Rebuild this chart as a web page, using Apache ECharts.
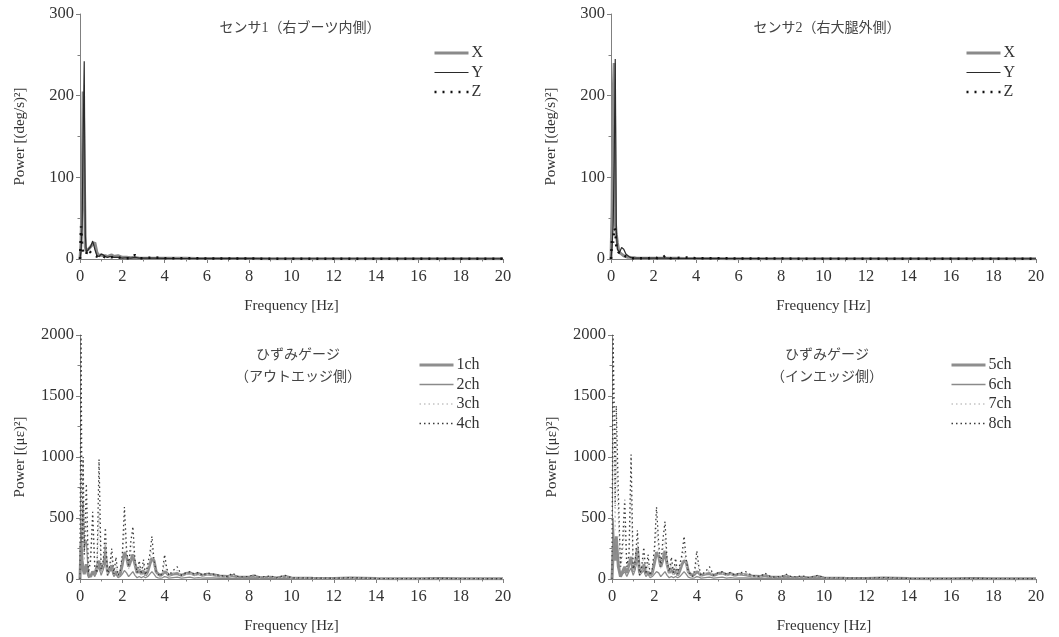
<!DOCTYPE html>
<html><head><meta charset="utf-8">
<script src="https://cdn.jsdelivr.net/npm/echarts@6/dist/echarts.min.js"></script>
<style>html,body{margin:0;padding:0;background:#fff}#c{width:1059px;height:637px}</style>
</head><body><div id="c"></div>
<script>
// ---------- data ----------
const xTicks = [0,2,4,6,8,10,12,14,16,18,20];
const titleTL = 'センサ1（右ブーツ内側）';
const titleTR = 'センサ2（右大腿外側）';
const titleBL = 'ひずみゲージ\n（アウトエッジ側）';
const titleBR = 'ひずみゲージ\n（インエッジ側）';
const namesTop = ['X','Y','Z'];
const namesBL = ['1ch','2ch','3ch','4ch'];
const namesBR = ['5ch','6ch','7ch','8ch'];

const freqTop = [0,0.05,0.1,0.15,0.2,0.25,0.3,0.35,0.4,0.5,0.6,0.7,0.8,0.9,1.0,1.1,1.2,1.3,1.4,1.5,1.6,1.8,2.0,2.2,2.4,2.6,2.8,3.0,3.5,4,4.5,5,5.5,6,7,8,9,10,11,12,13,14,15,16,17,18,19,20];
const s1X = [0,20,80,205,110,15,10,8,12,15,18,20,8,4,5,4,4,3,4,5,3,4,2,2,1.5,2,1,1,1,1,0.8,0.8,0.6,0.6,0.5,0.5,0.4,0.4,0.4,0.3,0.3,0.3,0.3,0.3,0.2,0.2,0.2,0.2];
const s1Y = [0,10,40,150,242,30,8,10,12,15,22,12,4,3,6,5,3,2,3,3,2,2,1,1.5,1,2,1,1,1,0.8,0.6,0.6,0.5,0.5,0.4,0.4,0.3,0.3,0.3,0.3,0.3,0.2,0.2,0.2,0.2,0.2,0.2,0.2];
const s1Z = [0,40,20,8,5,3,6,12,10,8,5,4,3,2,3,3,2,2,3,2,3,2,1,1,1,5,1,1,2,1,0.8,0.8,1,0.6,0.5,0.5,0.4,0.4,0.4,0.3,0.3,0.3,0.3,0.3,0.2,0.2,0.2,0.2];
const s2X = [0,60,200,240,45,30,20,12,8,6,4,3,2,2,1.5,1.5,1,1,1,1,1,1,1,1,1,1,0.8,0.8,0.6,0.6,0.5,0.5,0.4,0.4,0.4,0.3,0.3,0.3,0.3,0.3,0.2,0.2,0.2,0.2,0.2,0.2,0.2,0.2];
const s2Y = [0,15,40,120,245,35,12,10,8,14,12,6,4,2,1.5,1,1,1,1,1,1,1,1,1,1,1,0.8,0.8,0.6,0.6,0.5,0.5,0.4,0.4,0.4,0.3,0.3,0.3,0.3,0.3,0.2,0.2,0.2,0.2,0.2,0.2,0.2,0.2];
const s2Z = [0,25,20,38,35,15,12,8,10,8,5,3,2,1.5,1,1,1,1,1,1,1,1,2,1,1,5,1,1,2,1,1,1,0.8,0.6,0.5,0.5,0.4,0.4,0.4,0.3,0.3,0.3,0.3,0.3,0.2,0.2,0.2,0.2];

const freqBot = [0,0.05,0.1,0.15,0.2,0.3,0.4,0.5,0.6,0.7,0.8,0.9,1.0,1.1,1.2,1.3,1.4,1.5,1.6,1.7,1.8,1.9,2.0,2.1,2.2,2.3,2.4,2.5,2.6,2.7,2.8,2.9,3.0,3.1,3.2,3.3,3.4,3.5,3.6,3.7,3.8,3.9,4.0,4.1,4.2,4.4,4.6,4.8,5.0,5.2,5.4,5.6,5.8,6.0,6.3,6.6,7.0,7.2,7.5,8.0,8.2,8.5,9.0,9.3,9.7,10,11,12,12.8,14,15,16,17,18,19,20];
const ch1 = [0,300,150,80,40,120,30,20,60,40,100,150,60,100,200,60,80,110,40,60,30,40,120,220,180,100,150,200,120,50,80,40,70,30,60,120,170,150,60,40,30,40,60,50,30,40,45,30,45,50,35,45,30,40,35,25,20,30,15,15,25,10,15,8,20,8,6,5,8,4,3,3,4,3,2,2];
const ch2 = [0,200,450,630,250,320,10,30,50,20,60,100,30,80,280,30,60,80,20,40,10,20,40,70,50,20,40,60,30,10,20,10,20,10,20,40,60,40,15,10,8,10,20,15,8,12,15,8,12,15,8,12,8,10,8,6,5,8,4,4,6,3,4,2,5,2,2,1,2,1,1,1,1,1,1,1];
const ch3 = [0,900,400,600,150,500,100,200,420,80,60,550,50,100,300,40,80,180,30,120,20,50,150,420,200,80,220,300,120,40,110,30,120,20,90,150,250,110,40,30,15,40,140,60,20,50,70,20,40,45,30,40,20,35,30,20,15,35,10,15,25,10,18,8,20,8,6,5,8,3,2,2,3,2,2,1];
const ch4 = [0,2000,300,1000,200,780,50,150,550,100,50,980,80,150,420,30,100,250,40,180,30,60,200,590,250,100,300,430,150,50,150,40,160,30,120,200,350,150,60,40,20,60,200,90,30,70,100,30,50,60,40,55,30,50,40,30,20,50,15,20,35,15,25,10,30,10,8,6,12,4,3,3,5,3,2,2];
const ch5 = [0,200,330,150,350,100,20,60,100,50,120,180,60,120,250,50,80,120,40,60,30,50,130,220,190,100,160,230,120,50,90,40,80,30,70,120,150,140,60,40,30,40,60,50,30,40,45,30,45,50,35,45,30,40,35,25,20,30,15,15,25,10,15,8,20,8,6,5,8,4,3,3,4,3,2,2];
const ch6 = [0,500,300,200,280,150,20,40,60,20,60,90,30,80,220,30,50,70,20,40,10,20,40,60,50,20,40,60,30,10,20,10,20,10,20,40,60,40,15,10,8,10,20,15,8,12,15,8,12,15,8,12,8,10,8,6,5,8,4,4,6,3,4,2,5,2,2,1,2,1,1,1,1,1,1,1];
const ch7 = [0,1200,900,400,1000,500,80,200,450,80,150,700,60,100,280,30,80,180,30,140,20,60,180,420,220,80,230,330,110,40,130,40,120,30,90,150,250,120,40,30,15,50,160,70,20,45,70,20,40,45,30,40,20,35,40,20,15,35,10,15,30,10,18,8,20,8,6,5,8,3,2,2,3,2,2,1];
const ch8 = [0,2000,1450,600,1420,700,100,300,650,100,200,1020,80,150,400,30,100,260,40,200,30,80,250,590,300,100,320,470,150,60,180,50,170,40,120,200,350,160,60,40,20,70,230,100,30,60,100,30,50,60,40,55,30,50,60,30,20,50,15,20,40,15,25,10,30,10,8,6,12,4,3,3,5,3,2,2];

// ---------- build ----------
const FONT = '"Liberation Serif", "Noto Sans CJK JP", serif';
const TXT = '#333';
const AX = '#808080';
const pairs = (f, v) => f.map((x, i) => [x, v[i]]);

const grids = [
  {left: 80, top: 14, width: 423, height: 245},
  {left: 611, top: 14, width: 425, height: 245},
  {left: 80, top: 335, width: 423, height: 244},
  {left: 612, top: 335, width: 424, height: 244}
];

function xAx(i){
  return {type:'value', gridIndex:i, min:0, max:20, interval:2,
    name:'Frequency [Hz]', nameLocation:'middle', nameGap:40,
    nameTextStyle:{fontFamily:FONT, fontSize:15, color:TXT},
    axisLine:{show:true, onZero:false, lineStyle:{color:AX, width:1}},
    axisTick:{show:true, inside:false, length:4, lineStyle:{color:AX}},
    minorTick:{show:true, splitNumber:2, length:2.5, lineStyle:{color:AX}},
    axisLabel:{fontFamily:FONT, fontSize:16.5, color:TXT, margin:9,
      formatter: v => xTicks.includes(v) ? String(v) : ''},
    splitLine:{show:false}};
}
function yAx(i, max, interval, name){
  return {type:'value', gridIndex:i, min:0, max:max, interval:interval,
    name:name, nameLocation:'middle', nameGap:52, nameRotate:90,
    nameTextStyle:{fontFamily:FONT, fontSize:15, color:TXT},
    axisLine:{show:true, lineStyle:{color:AX, width:1}},
    axisTick:{show:true, inside:false, length:4, lineStyle:{color:AX}},
    minorTick:{show:true, splitNumber:2, length:2.5, lineStyle:{color:AX}},
    axisLabel:{fontFamily:FONT, fontSize:16.5, color:TXT, margin:6, formatter: v => String(v)},
    splitLine:{show:false}};
}

const stTop = {
  X:{color:'#8a8a8a', width:3, type:'solid'},
  Y:{color:'#2a2a2a', width:1.2, type:'solid'},
  Z:{color:'#111', width:2.5, type:[2,6]}
};
const stBot = [
  {color:'#8e8e8e', width:3, type:'solid'},
  {color:'#8a8a8a', width:1.3, type:'solid'},
  {color:'#c4c4c4', width:1.3, type:[1.5,3]},
  {color:'#3a3a3a', width:1.3, type:[1.5,3]}
];
const stTopArr = [stTop.X, stTop.Y, stTop.Z];

function line(name, gi, data, ls){
  return {type:'line', name:name, xAxisIndex:gi, yAxisIndex:gi, data:data,
    showSymbol:false, symbol:'none', silent:true, animation:false,
    lineStyle:Object.assign({}, ls), itemStyle:{color:ls.color}};
}

const series = [
  line('X',0,pairs(freqTop,s1X),stTop.X),
  line('Y',0,pairs(freqTop,s1Y),stTop.Y),
  line('Z',0,pairs(freqTop,s1Z),stTop.Z),
  line('X',1,pairs(freqTop,s2X),stTop.X),
  line('Y',1,pairs(freqTop,s2Y),stTop.Y),
  line('Z',1,pairs(freqTop,s2Z),stTop.Z),
  line('1ch',2,pairs(freqBot,ch1),stBot[0]),
  line('2ch',2,pairs(freqBot,ch2),stBot[1]),
  line('3ch',2,pairs(freqBot,ch3),stBot[2]),
  line('4ch',2,pairs(freqBot,ch4),stBot[3]),
  line('5ch',3,pairs(freqBot,ch5),stBot[0]),
  line('6ch',3,pairs(freqBot,ch6),stBot[1]),
  line('7ch',3,pairs(freqBot,ch7),stBot[2]),
  line('8ch',3,pairs(freqBot,ch8),stBot[3])
];

function leg(names, styles, left, top, gap){
  return {orient:'vertical', left:left, top:top, itemWidth:34, itemHeight:8, itemGap:gap,
    data:names.map((n,i)=>({name:n,
      lineStyle:{color:styles[i].color, width:styles[i].width, type:styles[i].type},
      itemStyle:{opacity:0, borderWidth:0}})),
    selectedMode:false,
    itemStyle:{opacity:0, borderWidth:0},
    textStyle:{fontFamily:FONT, fontSize:16, color:TXT, padding:[0,0,0,-2]}};
}

const titleStyle = {fontFamily:FONT, fontSize:14, fontWeight:'normal', color:'#444', lineHeight:22};

const option = {
  animation:false,
  backgroundColor:'#fff',
  title:[
    {text:titleTL, left:295, top:12, textAlign:'center', textStyle:titleStyle},
    {text:titleTR, left:822, top:12, textAlign:'center', textStyle:titleStyle},
    {text:titleBL, left:293, top:339, textAlign:'center', textStyle:titleStyle},
    {text:titleBR, left:822, top:339, textAlign:'center', textStyle:titleStyle}
  ],
  legend:[
    leg(namesTop, stTopArr, 428, 40, 3.5),
    leg(namesTop, stTopArr, 960, 40, 3.5),
    leg(namesBL, stBot, 413, 352, 3.5),
    leg(namesBR, stBot, 945, 352, 3.5)
  ],
  grid:grids,
  xAxis:[xAx(0),xAx(1),xAx(2),xAx(3)],
  yAxis:[
    yAx(0,300,100,'Power [(deg/s)²]'),
    yAx(1,300,100,'Power [(deg/s)²]'),
    yAx(2,2000,500,'Power [(με)²]'),
    yAx(3,2000,500,'Power [(με)²]')
  ],
  series:series
};
const chart = echarts.init(document.getElementById('c'), null, {renderer:'canvas'});
chart.setOption(option);
</script></body></html>
